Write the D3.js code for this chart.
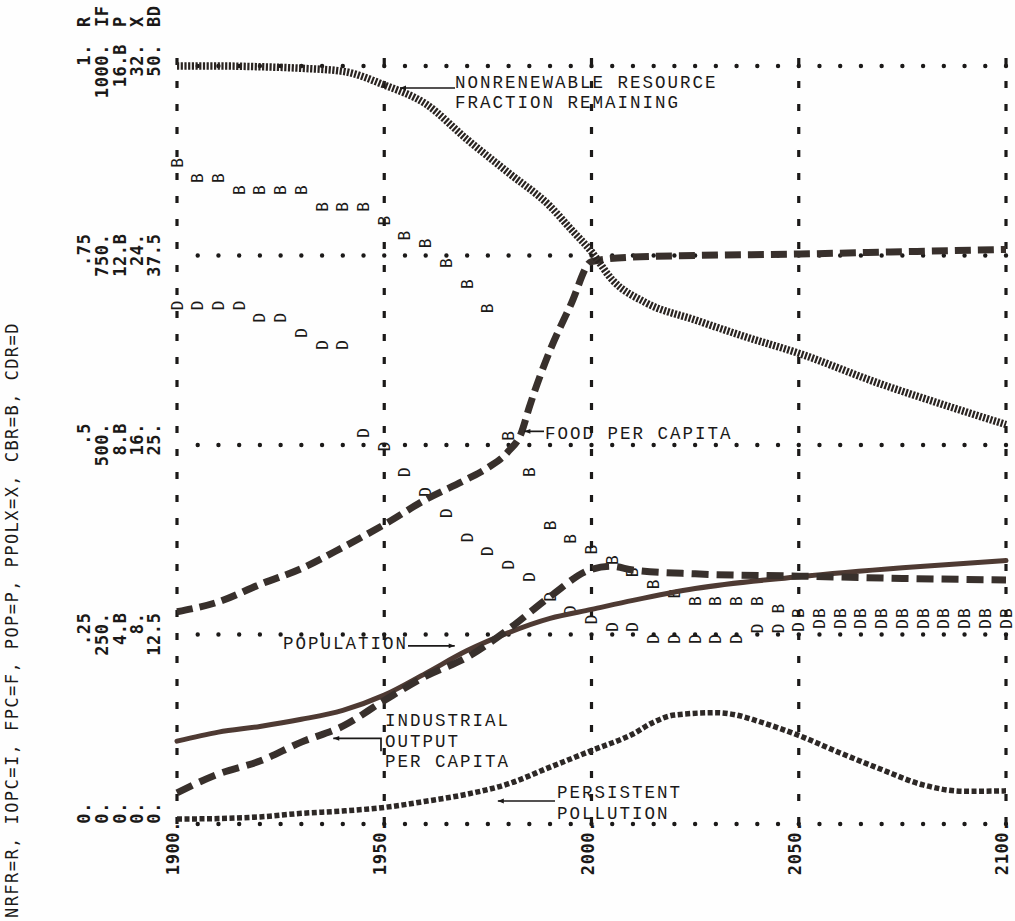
<!DOCTYPE html>
<html><head><meta charset="utf-8">
<script src="https://cdn.jsdelivr.net/npm/d3@7"></script>
<style>
html,body{margin:0;padding:0;background:#fff;}
svg{display:block;}
</style></head><body>
<svg id="c" width="1015" height="921"></svg>
<script>
// ---------------- data ----------------
const nrfrYears  = [1900,1910,1920,1930,1940,1950,1960,1970,1980,1990,1995,2000,2005,2013,2025,2037,2050,2069,2085,2100];
const nrfrValues = [1.0,1.0,0.999,0.997,0.993,0.975,0.95,0.903,0.859,0.815,0.785,0.755,0.718,0.688,0.665,0.643,0.621,0.582,0.553,0.527];

const fpcYears  = [1900,1910,1920,1930,1940,1950,1960,1970,1975,1980,1983,1985,1990,1995,2000,2010,2025,2050,2075,2100];
const fpcValues = [280,293,316,337,365,395,428,455,470,492,515,550,625,685,742,748,750,752,755,758];

const iopcYears  = [1900,1910,1920,1930,1940,1950,1960,1970,1980,1990,2000,2005,2010,2025,2050,2075,2100];
const iopcValues = [41,66,83,108,129,163,195,220,257,300,336,340,335,330,327,324,322];

const popYears  = [1900,1910,1920,1930,1940,1950,1960,1970,1980,1990,2000,2010,2025,2050,2075,2100];
const popValues = [1.75,1.94,2.06,2.21,2.40,2.72,3.18,3.66,4.04,4.34,4.53,4.72,4.97,5.22,5.41,5.56];

const ppolYears  = [1900,1910,1920,1930,1940,1950,1960,1970,1980,1990,2000,2010,2015,2020,2030,2035,2040,2050,2060,2070,2080,2090,2100];
const ppolValues = [0.21,0.23,0.30,0.45,0.55,0.70,0.96,1.26,1.70,2.40,3.10,3.80,4.30,4.60,4.70,4.60,4.35,3.74,3.00,2.30,1.65,1.38,1.40];

const rateYears = [1900,1905,1910,1915,1920,1925,1930,1935,1940,1945,1950,1955,1960,1965,1970,1975,1980,1985,1990,1995,2000,
                   2005,2010,2015,2020,2025,2030,2035,2040,2045,2050,2055,2060,2065,2070,2075,2080,2085,2090,2095,2100];
const cbrValues = [43.6,42.6,42.6,41.8,41.8,41.8,41.8,40.7,40.7,40.7,39.8,38.8,38.3,37.0,35.6,34.0,25.6,23.2,19.7,18.8,18.1,
                   17.4,16.6,15.8,15.2,14.7,14.7,14.7,14.7,14.2,13.9,13.9,13.9,13.9,13.9,13.9,13.9,13.9,13.9,13.9,13.9];
const cdrValues = [34.2,34.2,34.2,34.2,33.4,33.4,32.4,31.6,31.6,25.8,24.9,23.2,21.9,20.5,18.9,18.0,17.1,16.3,15.0,14.1,13.5,
                   13.0,13.0,12.2,12.2,12.2,12.2,12.2,12.9,12.9,13.0,13.2,13.2,13.2,13.2,13.2,13.2,13.2,13.2,13.2,13.2];

const yearTicks = [1900,1950,2000,2050,2100];
const yearTickLabels = ["1900.","1950.","2000.","2050.","2100."];
const gridFractions = [1, 0.75, 0.5, 0.25, 0];
const scaleLetters = ["R","IF","P","X","BD"];
const nrfrLabels = ["1.",".75",".5",".25","0."];
const ifLabels   = ["1000.","750.","500.","250.","0."];
const popLabels  = ["16.B","12.B","8.B","4.B","0."];
const ppolLabels = ["32.","24.","16.","8.","0."];
const rateLabels = ["50.","37.5","25.","12.5","0."];
const titleText = "NRFR=R, IOPC=I, FPC=F, POP=P, PPOLX=X, CBR=B, CDR=D";

// ---------------- scales ----------------
const W = 1015, H = 921;
const Y0 = 824, Y1 = 66;
const x = d3.scaleLinear().domain([1900, 2100]).range([177, 1006]);
const yF   = d3.scaleLinear().domain([0, 1]).range([Y0, Y1]);
const yN   = d3.scaleLinear().domain([0, 1]).range([Y0, Y1]);
const yIF  = d3.scaleLinear().domain([0, 1000]).range([Y0, Y1]);
const yP   = d3.scaleLinear().domain([0, 16]).range([Y0, Y1]);
const yX   = d3.scaleLinear().domain([0, 32]).range([Y0, Y1]);
const yR   = d3.scaleLinear().domain([0, 50]).range([Y0, Y1]);

const svg = d3.select("#c");
svg.append("rect").attr("width", W).attr("height", H).attr("fill", "#fefefe");

const ink = "#1b1918";
const mono = "'DejaVu Sans Mono', monospace";
const typew = "'Liberation Mono', 'DejaVu Sans Mono', monospace";

// ---------------- grid ----------------
const grid = svg.append("g");
grid.selectAll("line.h").data(gridFractions).join("line").attr("class", "h")
  .attr("x1", x(1905)).attr("x2", x(2100) + 0.5)
  .attr("y1", d => yF(d)).attr("y2", d => yF(d))
  .attr("stroke", ink).attr("stroke-width", 4.4)
  .attr("stroke-linecap", "round").attr("stroke-dasharray", "0 " + (x(1905) - x(1900)));

grid.selectAll("line.v").data(yearTicks).join("line").attr("class", "v")
  .attr("x1", d => x(d)).attr("x2", d => x(d))
  .attr("y1", yF(1) - 8).attr("y2", yF(0) + 4)
  .attr("stroke", ink).attr("stroke-width", 3.2)
  .attr("stroke-dasharray", "7 16");

// ---------------- axis texts ----------------
const cols = [84, 102, 120, 137, 154];
const labelSets = [nrfrLabels, ifLabels, popLabels, ppolLabels, rateLabels];
const lab = svg.append("g").attr("font-family", mono).attr("font-size", 17)
  .attr("font-weight", "bold").attr("letter-spacing", 0.6).attr("fill", ink);
labelSets.forEach((set, j) => {
  set.forEach((t, i) => {
    const cx = cols[j], cy = yF(gridFractions[i]) - 22;
    lab.append("text").attr("transform", `translate(${cx},${cy}) rotate(-90)`)
      .attr("text-anchor", "end").attr("dominant-baseline", "central").text(t);
  });
  lab.append("text").attr("transform", `translate(${cols[j]},27) rotate(-90)`)
    .attr("text-anchor", "start").attr("dominant-baseline", "central").text(scaleLetters[j]);
});

lab.selectAll("text.yr").data(yearTicks).join("text").attr("class", "yr")
  .attr("transform", (d) => `translate(${x(d) - 4},${yF(0) - 3}) rotate(-90)`)
  .attr("text-anchor", "end").attr("dominant-baseline", "central")
  .text((d, i) => yearTickLabels[i]);

svg.append("text").attr("transform", `translate(12,918) rotate(-90)`)
  .attr("font-family", mono).attr("font-size", 17).attr("letter-spacing", 1.45)
  .attr("fill", ink).attr("dominant-baseline", "central").text(titleText);

// ---------------- letter marks (CBR, CDR) ----------------
const letters = svg.append("g").attr("font-family", mono).attr("font-size", 16).attr("fill", ink);
const rateRows = rateYears.map((yr, i) => ({yr, b: cbrValues[i], d: cdrValues[i]}));
letters.selectAll("text.b").data(rateRows).join("text").attr("class", "b")
  .attr("transform", d => `translate(${x(d.yr)},${yR(d.b)}) rotate(-90)`)
  .attr("text-anchor", "middle").attr("dominant-baseline", "central").text("B");
letters.selectAll("text.d").data(rateRows).join("text").attr("class", "d")
  .attr("transform", d => `translate(${x(d.yr)},${yR(d.d)}) rotate(-90)`)
  .attr("text-anchor", "middle").attr("dominant-baseline", "central").text("D");

// ---------------- lines ----------------
function series(years, vals, ys) {
  return d3.line().curve(d3.curveMonotoneX).x(d => x(d[0])).y(d => ys(d[1]))(years.map((yr, i) => [yr, vals[i]]));
}
const lines = svg.append("g").attr("fill", "none");
lines.append("path").attr("d", series(ppolYears, ppolValues, yX))
  .attr("stroke", "#2d2826").attr("stroke-width", 5.5).attr("stroke-dasharray", "5 2.5");
lines.append("path").attr("d", series(popYears, popValues, yP))
  .attr("stroke", "#4e3a33").attr("stroke-width", 5).attr("stroke-linecap", "round");
lines.append("path").attr("d", series(iopcYears, iopcValues, yIF))
  .attr("stroke", "#38302c").attr("stroke-width", 7).attr("stroke-dasharray", "17 8");
lines.append("path").attr("d", series(fpcYears, fpcValues, yIF))
  .attr("stroke", "#38302c").attr("stroke-width", 7).attr("stroke-dasharray", "16 7");
lines.append("path").attr("d", series(nrfrYears, nrfrValues, yN))
  .attr("stroke", "#2a2421").attr("stroke-width", 7.5).attr("stroke-dasharray", "2.2 1.5");

// ---------------- annotations ----------------
svg.append("defs").append("marker").attr("id", "ah").attr("viewBox", "0 0 10 10")
  .attr("refX", 10).attr("refY", 5).attr("markerWidth", 9).attr("markerHeight", 6)
  .attr("orient", "auto-start-reverse").attr("markerUnits", "userSpaceOnUse")
  .append("path").attr("d", "M0,1 L10,5 L0,9 Z").attr("fill", ink);

const ann = svg.append("g").attr("font-family", typew).attr("font-size", 17.5)
  .attr("letter-spacing", 2.0).attr("fill", ink);
function note(linesTxt, tx, ty, lh) {
  linesTxt.forEach((t, i) => ann.append("text").attr("x", tx).attr("y", ty + i * lh).text(t));
}
note(["NONRENEWABLE RESOURCE", "FRACTION REMAINING"], 455, 88, 20);
note(["FOOD PER CAPITA"], 545, 439, 20);
note(["POPULATION"], 283, 649, 20);
note(["INDUSTRIAL", "OUTPUT", "PER CAPITA"], 385, 726, 20.5);
note(["PERSISTENT", "POLLUTION"], 557, 798, 20.5);

const arrows = svg.append("g").attr("stroke", ink).attr("stroke-width", 1.7).attr("fill", "none");
// arrow tips placed on the curves through the scales
const tipN = [x(1953.8), yN(0.971)];
arrows.append("path").attr("d", `M455,${tipN[1]} L${tipN[0]},${tipN[1]}`).attr("marker-end", "url(#ah)");
const tipF = [x(1983.8), yIF(518)];
arrows.append("path").attr("d", `M544,${tipF[1]} L${tipF[0]},${tipF[1]}`).attr("marker-end", "url(#ah)");
const tipP = [x(1967), yP(3.76)];
arrows.append("path").attr("d", `M408,${tipP[1]} L${tipP[0]},${tipP[1]}`).attr("marker-end", "url(#ah)");
const tipI = [x(1937.7), yIF(113)];
arrows.append("path").attr("d", `M381,${tipI[1] + 13} L381,${tipI[1]} L${tipI[0]},${tipI[1]}`).attr("marker-end", "url(#ah)");
const tipX = [x(1977.4), yX(0.97)];
arrows.append("path").attr("d", `M555,${tipX[1]} L${tipX[0]},${tipX[1]}`).attr("marker-end", "url(#ah)");
</script>
</body></html>
